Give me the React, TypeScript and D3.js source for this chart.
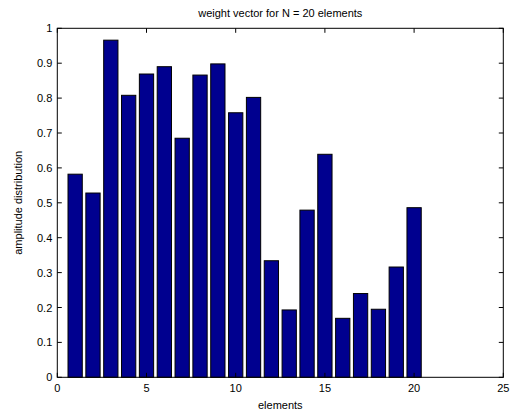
import React from 'react'
import * as d3 from 'd3'

const elements = d3.range(1, 21)
const weights = [
	0.582, 0.528, 0.966, 0.808, 0.869, 0.89, 0.685, 0.866, 0.898, 0.758, 0.802,
	0.334, 0.193, 0.479, 0.639, 0.169, 0.24, 0.195, 0.316, 0.486,
]
const xTicks = [0, 5, 10, 15, 20, 25]
const yTicks = d3.range(0, 11).map((i) => i / 10)

const App = () => {
	const width = 513,
		height = 414
	const margin = { left: 57.3, right: 9.7, top: 28.3, bottom: 36.7 }
	const innerW = width - margin.left - margin.right
	const innerH = height - margin.top - margin.bottom

	const x = d3.scaleLinear().domain([0, 25]).range([margin.left, margin.left + innerW])
	const y = d3.scaleLinear().domain([0, 1]).range([margin.top + innerH, margin.top])
	const barW = x(0.8) - x(0)
	const tick = 4.5
	const font = 'Arial, "Liberation Sans", Helvetica, sans-serif'

	return (
		<svg
			width={width}
			height={height}
			style={{ position: 'absolute', left: 0, top: 0, background: '#fff' }}
			fontFamily={font}
			fontSize={11}
		>
			{/* bars */}
			{elements.map((e, i) => (
				<rect
					key={e}
					x={x(e - 0.4)}
					y={y(weights[i])}
					width={barW}
					height={y(0) - y(weights[i])}
					fill="#00008f"
					stroke="#000"
					strokeWidth={1}
				/>
			))}

			{/* box */}
			<rect
				x={margin.left}
				y={margin.top}
				width={innerW}
				height={innerH}
				fill="none"
				stroke="#000"
				strokeWidth={1}
			/>

			{/* x ticks */}
			{xTicks.map((t) => (
				<g key={'x' + t}>
					<line x1={x(t)} x2={x(t)} y1={y(0)} y2={y(0) - tick} stroke="#000" />
					<line x1={x(t)} x2={x(t)} y1={y(1)} y2={y(1) + tick} stroke="#000" />
					<text x={x(t)} y={y(0) + 15} textAnchor="middle" fill="#000">
						{t}
					</text>
				</g>
			))}

			{/* y ticks */}
			{yTicks.map((t) => (
				<g key={'y' + t}>
					<line x1={x(0)} x2={x(0) + tick} y1={y(t)} y2={y(t)} stroke="#000" />
					<line x1={x(25)} x2={x(25) - tick} y1={y(t)} y2={y(t)} stroke="#000" />
					<text x={x(0) - 5} y={y(t) + 4} textAnchor="end" fill="#000">
						{d3.format('~g')(t)}
					</text>
				</g>
			))}

			<text x={(x(0) + x(25)) / 2} y={17} textAnchor="middle" fill="#000">
				weight vector for N = 20 elements
			</text>
			<text x={(x(0) + x(25)) / 2} y={409} textAnchor="middle" fill="#000">
				elements
			</text>
			<text
				transform={`translate(22,${(y(0) + y(1)) / 2}) rotate(-90)`}
				textAnchor="middle"
				fill="#000"
			>
				amplitude distribution
			</text>
		</svg>
	)
}

export default App
